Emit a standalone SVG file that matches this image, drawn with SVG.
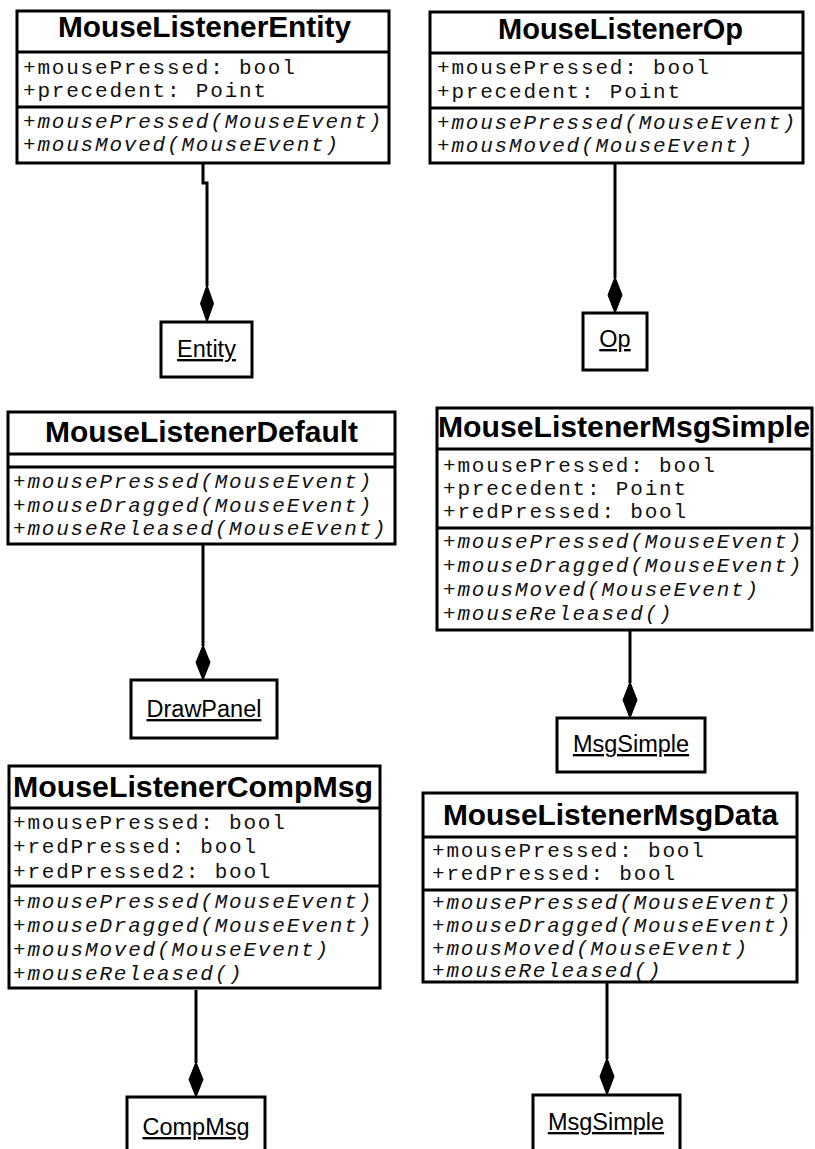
<svg xmlns="http://www.w3.org/2000/svg" width="815" height="1149" viewBox="0 0 815 1149">
<style>
.box{fill:#fff;stroke:#000;stroke-width:3}
.sep{stroke:#000;stroke-width:3}
.name{font-family:"Liberation Sans",Arial,sans-serif;font-weight:bold;font-size:29px;text-anchor:middle;fill:#000}
.attr{font-family:"Liberation Mono","Courier New",monospace;font-size:21px;letter-spacing:1.8px;fill:#111}
.meth{font-family:"Liberation Mono","Courier New",monospace;font-size:21px;letter-spacing:1.8px;font-style:italic;fill:#111}
.obj{font-family:"Liberation Sans",Arial,sans-serif;font-size:23.5px;text-anchor:middle;text-decoration:underline;fill:#000}
.conn{fill:none;stroke:#000;stroke-width:3}
.dia{fill:#000;stroke:#000;stroke-width:1}
</style>
<rect width="815" height="1149" fill="#fff"/>
<g id="connectors">
<path class="conn" d="M203,163 V183 H207 V286"/>
<polygon class="dia" points="207,285 213.5,303.5 207,322 200.5,303.5"/>
<path class="conn" d="M615,163 V278"/>
<polygon class="dia" points="615,277 622,295 615,313 608,295"/>
<path class="conn" d="M203,544 V646"/>
<polygon class="dia" points="203,645 210,662.5 203,680 196,662.5"/>
<path class="conn" d="M630,630 V683"/>
<polygon class="dia" points="630,682 637,700 630,718 623,700"/>
<path class="conn" d="M196,990 V1063"/>
<polygon class="dia" points="196,1062 203,1079.5 196,1097 189,1079.5"/>
<path class="conn" d="M607,982 V1059"/>
<polygon class="dia" points="607,1058 614,1076.5 607,1095 600,1076.5"/>
</g>
<g id="MouseListenerEntity">
<rect class="box" x="17" y="11" width="372" height="152"/>
<line class="sep" x1="17" y1="52" x2="389" y2="52"/>
<line class="sep" x1="17" y1="107" x2="389" y2="107"/>
<text class="name" x="204.5" y="37" textLength="293" lengthAdjust="spacingAndGlyphs">MouseListenerEntity</text>
<text class="attr" x="23" y="74">+mousePressed: bool</text>
<text class="attr" x="23" y="97">+precedent: Point</text>
<text class="meth" x="23" y="128">+mousePressed(MouseEvent)</text>
<text class="meth" x="23" y="151">+mousMoved(MouseEvent)</text>
</g>
<g id="MouseListenerOp">
<rect class="box" x="430" y="12" width="373" height="151"/>
<line class="sep" x1="430" y1="53" x2="803" y2="53"/>
<line class="sep" x1="430" y1="108" x2="803" y2="108"/>
<text class="name" x="620.5" y="39" textLength="245" lengthAdjust="spacingAndGlyphs">MouseListenerOp</text>
<text class="attr" x="437" y="74">+mousePressed: bool</text>
<text class="attr" x="437" y="98">+precedent: Point</text>
<text class="meth" x="437" y="129">+mousePressed(MouseEvent)</text>
<text class="meth" x="437" y="152">+mousMoved(MouseEvent)</text>
</g>
<g id="Entity">
<rect class="box" x="161" y="322" width="91" height="55"/>
<text class="obj" x="206.5" y="357">Entity</text>
</g>
<g id="Op">
<rect class="box" x="583" y="313" width="64" height="57"/>
<text class="obj" x="615" y="347">Op</text>
</g>
<g id="MouseListenerDefault">
<rect class="box" x="8" y="412" width="387" height="132"/>
<line class="sep" x1="8" y1="454" x2="395" y2="454"/>
<line class="sep" x1="8" y1="467" x2="395" y2="467"/>
<text class="name" x="201.5" y="442" textLength="313" lengthAdjust="spacingAndGlyphs">MouseListenerDefault</text>
<text class="meth" x="13" y="488">+mousePressed(MouseEvent)</text>
<text class="meth" x="13" y="512">+mouseDragged(MouseEvent)</text>
<text class="meth" x="13" y="535">+mouseReleased(MouseEvent)</text>
</g>
<g id="DrawPanel">
<rect class="box" x="131" y="680" width="146" height="58"/>
<text class="obj" x="204" y="717">DrawPanel</text>
</g>
<g id="MouseListenerMsgSimple">
<rect class="box" x="437" y="408" width="375" height="222"/>
<line class="sep" x1="437" y1="449" x2="812" y2="449"/>
<line class="sep" x1="437" y1="528" x2="812" y2="528"/>
<text class="name" x="624" y="437" textLength="372" lengthAdjust="spacingAndGlyphs">MouseListenerMsgSimple</text>
<text class="attr" x="443" y="472">+mousePressed: bool</text>
<text class="attr" x="443" y="495">+precedent: Point</text>
<text class="attr" x="443" y="518">+redPressed: bool</text>
<text class="meth" x="443" y="548">+mousePressed(MouseEvent)</text>
<text class="meth" x="443" y="572">+mouseDragged(MouseEvent)</text>
<text class="meth" x="443" y="596">+mousMoved(MouseEvent)</text>
<text class="meth" x="443" y="620">+mouseReleased()</text>
</g>
<g id="MsgSimple1">
<rect class="box" x="557" y="718" width="148" height="54"/>
<text class="obj" x="631" y="752">MsgSimple</text>
</g>
<g id="MouseListenerCompMsg">
<rect class="box" x="9" y="766" width="371" height="222"/>
<line class="sep" x1="9" y1="808" x2="380" y2="808"/>
<line class="sep" x1="9" y1="886" x2="380" y2="886"/>
<text class="name" x="193" y="797" textLength="360" lengthAdjust="spacingAndGlyphs">MouseListenerCompMsg</text>
<text class="attr" x="13" y="829">+mousePressed: bool</text>
<text class="attr" x="13" y="853">+redPressed: bool</text>
<text class="attr" x="13" y="878">+redPressed2: bool</text>
<text class="meth" x="13" y="908">+mousePressed(MouseEvent)</text>
<text class="meth" x="13" y="932">+mouseDragged(MouseEvent)</text>
<text class="meth" x="13" y="956">+mousMoved(MouseEvent)</text>
<text class="meth" x="13" y="980">+mouseReleased()</text>
</g>
<g id="CompMsg">
<rect class="box" x="127" y="1097" width="138" height="60"/>
<text class="obj" x="196" y="1135">CompMsg</text>
</g>
<g id="MouseListenerMsgData">
<rect class="box" x="423" y="793" width="374" height="189"/>
<line class="sep" x1="423" y1="837" x2="797" y2="837"/>
<line class="sep" x1="423" y1="890" x2="797" y2="890"/>
<text class="name" x="610.5" y="825" textLength="335" lengthAdjust="spacingAndGlyphs">MouseListenerMsgData</text>
<text class="attr" x="432" y="857">+mousePressed: bool</text>
<text class="attr" x="432" y="880">+redPressed: bool</text>
<text class="meth" x="432" y="909">+mousePressed(MouseEvent)</text>
<text class="meth" x="432" y="932">+mouseDragged(MouseEvent)</text>
<text class="meth" x="432" y="955">+mousMoved(MouseEvent)</text>
<text class="meth" x="432" y="977">+mouseReleased()</text>
</g>
<g id="MsgSimple2">
<rect class="box" x="533" y="1095" width="147" height="60"/>
<text class="obj" x="606" y="1130">MsgSimple</text>
</g>
</svg>
